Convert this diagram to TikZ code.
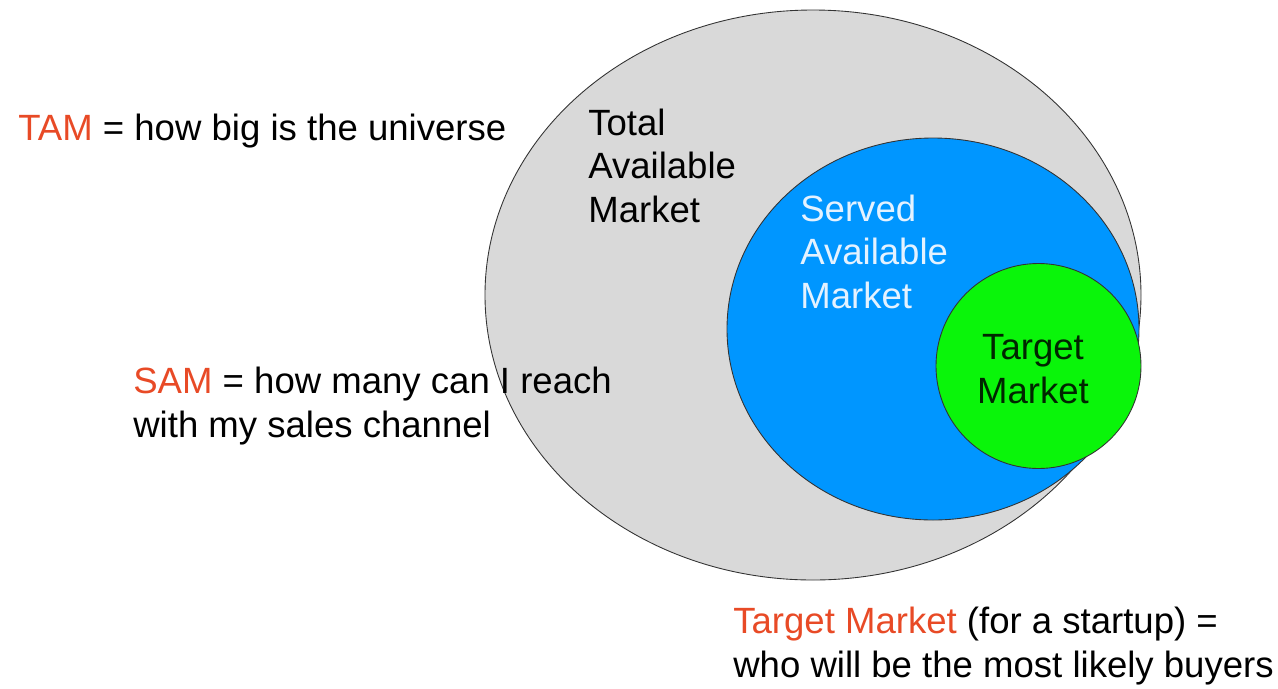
\documentclass[tikz,border=0pt]{standalone}
\usepackage{fontspec}
\setmainfont{Liberation Sans}
\usepackage{xcolor}
\usetikzlibrary{shapes.geometric}

\definecolor{tamgrey}{RGB}{217,217,217}
\definecolor{samblue}{RGB}{0,150,255}
\definecolor{tmgreen}{RGB}{10,245,10}
\definecolor{hilite}{RGB}{232,74,38}
\definecolor{servedtxt}{RGB}{228,242,255}

\begin{document}
\begin{tikzpicture}[
  mkt/.style={ellipse, draw=black!80, line width=0.5pt, inner sep=0pt},
  lbl/.style={anchor=base west, align=left, inner sep=0pt,
    font=\fontsize{20.8}{24.5}\selectfont}
]
\useasboundingbox (0,0) rectangle (25.56,-13.76);
% nested markets
\node[mkt, fill=tamgrey, minimum width=13.12cm, minimum height=11.4cm] (tam) at (16.26,-5.90) {};
\node[mkt, fill=samblue, minimum width=8.24cm, minimum height=7.64cm] (sam) at (18.66,-6.58) {};
\node[mkt, fill=tmgreen, minimum width=4.1cm, minimum height=4.1cm] (tm) at (20.77,-7.32) {};
% labels inside (base = last line)
\node[lbl] (tamname) at (11.76,-4.44) {Total\\Available\\Market};
\node[lbl, text=servedtxt] (samname) at (16.0,-6.16) {Served\\Available\\Market};
\node[lbl, align=center, anchor=base, text=black!85!green] (tmname) at (20.66,-8.06) {Target\\Market};
% explanations
\node[lbl] (tamnote) at (0.36,-2.8) {\textcolor{hilite}{TAM} = how big is the universe};
\node[lbl] (samnote) at (2.66,-8.74) {\textcolor{hilite}{SAM} = how many can I reach\\with my sales channel};
\node[lbl] (tmnote) at (14.66,-13.54) {\textcolor{hilite}{Target Market} (for a startup) =\\who will be the most likely buyers};
\end{tikzpicture}
\end{document}
